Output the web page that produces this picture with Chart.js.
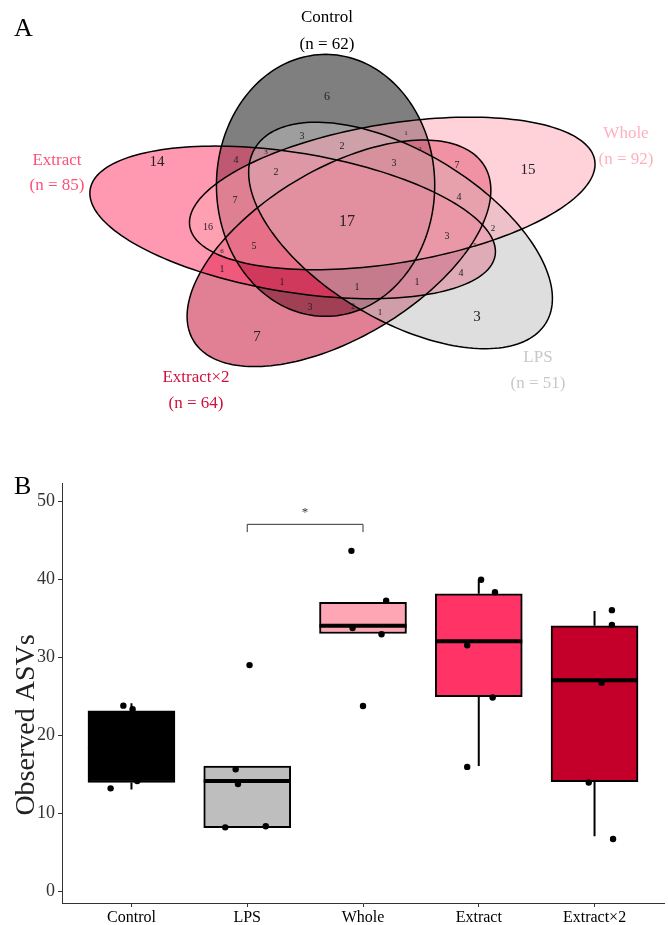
<!DOCTYPE html>
<html>
<head>
<meta charset="utf-8">
<title>Shared ASVs and observed ASVs</title>
<script src="https://cdn.jsdelivr.net/npm/chart.js@4.4.1/dist/chart.umd.min.js"></script>
<style>
  html, body { margin: 0; padding: 0; background: #fff; }
  #wrap { position: relative; width: 668px; height: 925px; overflow: hidden; }
  #vennCanvas { position: absolute; left: 0; top: 0; }
  #boxCanvas { position: absolute; left: 0; top: 460px; }
</style>
</head>
<body>
<div id="wrap">
  <canvas id="vennCanvas" width="668" height="460"></canvas>
  <canvas id="boxCanvas" width="668" height="465"></canvas>
</div>
<script>
// ---- Panel A: five-set Venn (order: Control, Whole, LPS, Extract×2, Extract)
const setNames = ['Control', 'Whole', 'LPS', 'Extract×2', 'Extract'];
const setSizes = [62, 92, 51, 64, 85];
// counts of every region
const regionCounts = [6, 3, 2, 1, 2, 3, 7, 15, 4, 3, 2, 14, 7, 16, 17, 4,
  3, 2, 5, 4, 1, 5, 6, 1, 1, 1, 3, 2, 1, 3, 7];

// ---- Panel B: observed ASVs per group
const groups = ['Control', 'LPS', 'Whole', 'Extract', 'Extract×2'];
const boxLow = [14.0, 8.2, 33.1, 25.0, 14.1];
const boxHigh = [23.2, 16.1, 37.1, 38.2, 34.1];
const medians = [18.5, 14.2, 34.1, 32.1, 27.1];
const whiskerLow = [13.1, 8.2, 33.1, 16.1, 7.1];
const whiskerHigh = [24.15, 16.1, 37.1, 40.0, 36.0];
// jittered sample points: group index, horizontal jitter, value
const pointGroup = [0, 0, 0, 0, 0, 1, 1, 1, 1, 1, 2, 2, 2, 2, 2, 3, 3, 3, 3, 3, 4, 4, 4, 4, 4];
const pointJitter = [-0.07, 0.01, -0.18, 0.05, -0.1, -0.10, -0.08, -0.19, 0.16, 0.02,
  -0.10, 0.20, -0.09, 0.16, 0.00, 0.02, 0.14, -0.10, 0.12, -0.10, 0.15, 0.15, 0.06, -0.05, 0.16];
const pointValue = [23.85, 23.4, 13.25, 14.2, 18.6, 15.7, 13.8, 8.25, 8.4, 29.05,
  43.7, 37.3, 33.8, 33.0, 23.8, 40.0, 38.4, 31.6, 24.9, 16.0, 36.1, 34.2, 26.8, 14.0, 6.75];
const yTicks = [0, 10, 20, 30, 40, 50];
const sigPair = [1, 2];
const sigMark = '*';
const sigLevel = 47.1;

// ---- styling / layout
const SERIF = "'Liberation Serif', 'Times New Roman', serif";
const setFill = ['rgba(0,0,0,0.5)', 'rgba(255,166,180,0.5)', 'rgba(190,190,190,0.5)',
  'rgba(196,0,42,0.5)', 'rgba(255,51,102,0.5)'];
const fillOrder = [0, 3, 4, 2, 1];
const setLabelColor = ['#000000', '#ffb0be', '#c8c8c8', '#d0103a', '#ff4f78'];
const boxColors = ['#000000', '#bebebe', '#ffa6b4', '#ff3366', '#c4002a'];

// ellipse geometry (shared rotated shape, x stretched by the figure aspect)
const VENN = { cx: 350, cy: 218, stretchX: 1.605, dist: 36, a: 68, b: 131, phi0: -115, theta0: -90 };
const setLabelAnchor = [[327, 18, 45], [626, 134, 160], [538, 358, 384], [196, 378, 404], [57, 161, 186]];
const regionAnchor = [[327, 97], [302, 136], [342, 146], [406, 133], [420, 149], [394, 163], [457, 165],
  [528, 170], [236, 160], [266, 152], [276, 172], [157, 162], [235, 200], [208, 227], [347, 222],
  [459, 197], [447, 236], [493, 229], [475, 245], [461, 273], [417, 282], [254, 246], [222, 251],
  [222, 269], [282, 282], [357, 287], [310, 307], [353, 307], [380, 313], [477, 317], [257, 337]];
const regionFont = [12, 10, 10, 7, 7, 10, 10, 15, 10, 7, 10, 15, 10, 10, 16, 10, 10, 9, 7, 10,
  10, 10, 7, 10, 10, 10, 10, 8, 9, 15, 15];

/**
 * Points of ellipse i in data units
 */
function ellipsePoints(i) {
  const rad = Math.PI / 180;
  const phi = (VENN.phi0 + 72 * i) * rad;
  const th = (VENN.theta0 + 72 * i) * rad;
  const pts = [];
  for (let k = 0; k <= 180; k++) {
    const t = k / 180 * 2 * Math.PI;
    const nx = VENN.dist * Math.cos(phi) + VENN.b * Math.cos(t) * Math.cos(th) - VENN.a * Math.sin(t) * Math.sin(th);
    const ny = VENN.dist * Math.sin(phi) + VENN.b * Math.cos(t) * Math.sin(th) + VENN.a * Math.sin(t) * Math.cos(th);
    pts.push([VENN.cx + VENN.stretchX * nx, VENN.cy + ny]);
  }
  return pts;
}

const vennPlugin = {
  id: 'venn',
  afterDraw(chart) {
    const ctx = chart.ctx;
    const xs = chart.scales.x, ys = chart.scales.y;
    const tracePath = (pts) => {
      ctx.beginPath();
      pts.forEach((p, k) => {
        const X = xs.getPixelForValue(p[0]), Y = ys.getPixelForValue(p[1]);
        if (k === 0) ctx.moveTo(X, Y); else ctx.lineTo(X, Y);
      });
      ctx.closePath();
    };
    ctx.save();
    const shapes = setNames.map((n, i) => ellipsePoints(i));
    fillOrder.forEach((i) => {
      tracePath(shapes[i]);
      ctx.fillStyle = setFill[i];
      ctx.fill();
    });
    ctx.strokeStyle = '#000';
    ctx.lineWidth = 1.5;
    shapes.forEach((pts) => { tracePath(pts); ctx.stroke(); });

    // region counts
    ctx.fillStyle = '#222';
    ctx.textAlign = 'center';
    ctx.textBaseline = 'middle';
    regionCounts.forEach((c, i) => {
      ctx.font = regionFont[i] + 'px ' + SERIF;
      ctx.fillText(String(c), xs.getPixelForValue(regionAnchor[i][0]), ys.getPixelForValue(regionAnchor[i][1]));
    });

    // set names
    ctx.font = '17px ' + SERIF;
    setNames.forEach((name, i) => {
      const a = setLabelAnchor[i];
      ctx.fillStyle = setLabelColor[i];
      ctx.fillText(name, xs.getPixelForValue(a[0]), ys.getPixelForValue(a[1]));
      ctx.fillText('(n = ' + setSizes[i] + ')', xs.getPixelForValue(a[0]), ys.getPixelForValue(a[2]));
    });

    // panel letter
    ctx.fillStyle = '#000';
    ctx.textAlign = 'left';
    ctx.textBaseline = 'alphabetic';
    ctx.font = '26px ' + SERIF;
    ctx.fillText('A', 14, 36);
    ctx.restore();
  }
};

new Chart(document.getElementById('vennCanvas'), {
  type: 'scatter',
  data: { datasets: [] },
  options: {
    responsive: false,
    animation: false,
    layout: { padding: 0 },
    plugins: { legend: { display: false }, tooltip: { enabled: false } },
    scales: {
      x: { type: 'linear', min: 0, max: 668, display: false },
      y: { type: 'linear', min: 0, max: 460, reverse: true, display: false }
    }
  },
  plugins: [vennPlugin]
});

const boxPlugin = {
  id: 'boxExtras',
  beforeDatasetsDraw(chart) {
    const ctx = chart.ctx, xs = chart.scales.x, ys = chart.scales.y;
    ctx.save();
    ctx.strokeStyle = '#000';
    ctx.lineWidth = 2;
    groups.forEach((g, i) => {
      const X = xs.getPixelForValue(i);
      ctx.beginPath();
      ctx.moveTo(X, ys.getPixelForValue(boxHigh[i]));
      ctx.lineTo(X, ys.getPixelForValue(whiskerHigh[i]));
      ctx.moveTo(X, ys.getPixelForValue(boxLow[i]));
      ctx.lineTo(X, ys.getPixelForValue(whiskerLow[i]));
      ctx.stroke();
    });
    ctx.restore();
  },
  afterDatasetDraw(chart, args) {
    if (args.index !== 0) return;
    const ctx = chart.ctx, ys = chart.scales.y;
    const bars = chart.getDatasetMeta(0).data;
    ctx.save();
    ctx.strokeStyle = '#000';
    ctx.lineWidth = 4;
    bars.forEach((bar, i) => {
      const Y = ys.getPixelForValue(medians[i]);
      ctx.beginPath();
      ctx.moveTo(bar.x - bar.width / 2, Y);
      ctx.lineTo(bar.x + bar.width / 2, Y);
      ctx.stroke();
    });
    ctx.restore();
  },
  afterDraw(chart) {
    const ctx = chart.ctx, xs = chart.scales.x, ys = chart.scales.y;
    ctx.save();
    // significance bracket
    const x1 = xs.getPixelForValue(sigPair[0]), x2 = xs.getPixelForValue(sigPair[1]);
    const yTop = ys.getPixelForValue(sigLevel), yEnd = ys.getPixelForValue(sigLevel - 1.0);
    ctx.strokeStyle = '#333';
    ctx.lineWidth = 1;
    ctx.beginPath();
    ctx.moveTo(x1, yEnd); ctx.lineTo(x1, yTop); ctx.lineTo(x2, yTop); ctx.lineTo(x2, yEnd);
    ctx.stroke();
    ctx.fillStyle = '#333';
    ctx.textAlign = 'center';
    ctx.textBaseline = 'middle';
    ctx.font = '13px ' + SERIF;
    ctx.fillText(sigMark, (x1 + x2) / 2, ys.getPixelForValue(sigLevel + 1.5));

    // y axis title
    ctx.save();
    ctx.translate(27, 265);
    ctx.rotate(-Math.PI / 2);
    ctx.fillStyle = '#222';
    ctx.font = '28px ' + SERIF;
    ctx.fillText('Observed ASVs', 0, 0);
    ctx.restore();

    // panel letter
    ctx.fillStyle = '#000';
    ctx.textAlign = 'left';
    ctx.textBaseline = 'alphabetic';
    ctx.font = '26px ' + SERIF;
    ctx.fillText('B', 14, 34);
    ctx.restore();
  }
};

new Chart(document.getElementById('boxCanvas'), {
  data: {
    datasets: [
      {
        type: 'bar',
        data: groups.map((g, i) => ({ x: i, y: [boxLow[i], boxHigh[i]] })),
        backgroundColor: boxColors,
        borderColor: '#000',
        borderWidth: 2,
        borderSkipped: false,
        barThickness: 87,
        order: 2
      },
      {
        type: 'scatter',
        data: pointValue.map((v, k) => ({ x: pointGroup[k] + pointJitter[k], y: v })),
        backgroundColor: '#000',
        borderWidth: 0,
        pointRadius: 3.2,
        order: 1
      }
    ]
  },
  options: {
    responsive: false,
    animation: false,
    layout: { padding: { top: 23, right: 2, left: 0, bottom: 0 } },
    plugins: { legend: { display: false }, tooltip: { enabled: false } },
    scales: {
      x: {
        type: 'linear',
        min: -0.6,
        max: 4.6,
        offset: false,
        afterBuildTicks: (axis) => { axis.ticks = groups.map((g, i) => ({ value: i })); },
        afterFit: (axis) => { axis.height = 22; },
        ticks: {
          callback: (v) => groups[v],
          color: '#000',
          padding: 1,
          maxRotation: 0,
          font: { family: SERIF, size: 16 }
        },
        grid: { offset: false, drawOnChartArea: false, drawTicks: true, tickLength: 4, color: '#333' },
        border: { display: true, color: '#333', width: 1 }
      },
      y: {
        type: 'linear',
        min: -1.45,
        max: 52.4,
        afterBuildTicks: (axis) => { axis.ticks = yTicks.map((v) => ({ value: v })); },
        afterFit: (axis) => { axis.width = 62; },
        ticks: {
          color: '#333',
          padding: 3,
          font: { family: SERIF, size: 18 }
        },
        grid: { drawOnChartArea: false, drawTicks: true, tickLength: 4, color: '#333' },
        border: { display: true, color: '#333', width: 1 }
      }
    }
  },
  plugins: [boxPlugin]
});
</script>
</body>
</html>
